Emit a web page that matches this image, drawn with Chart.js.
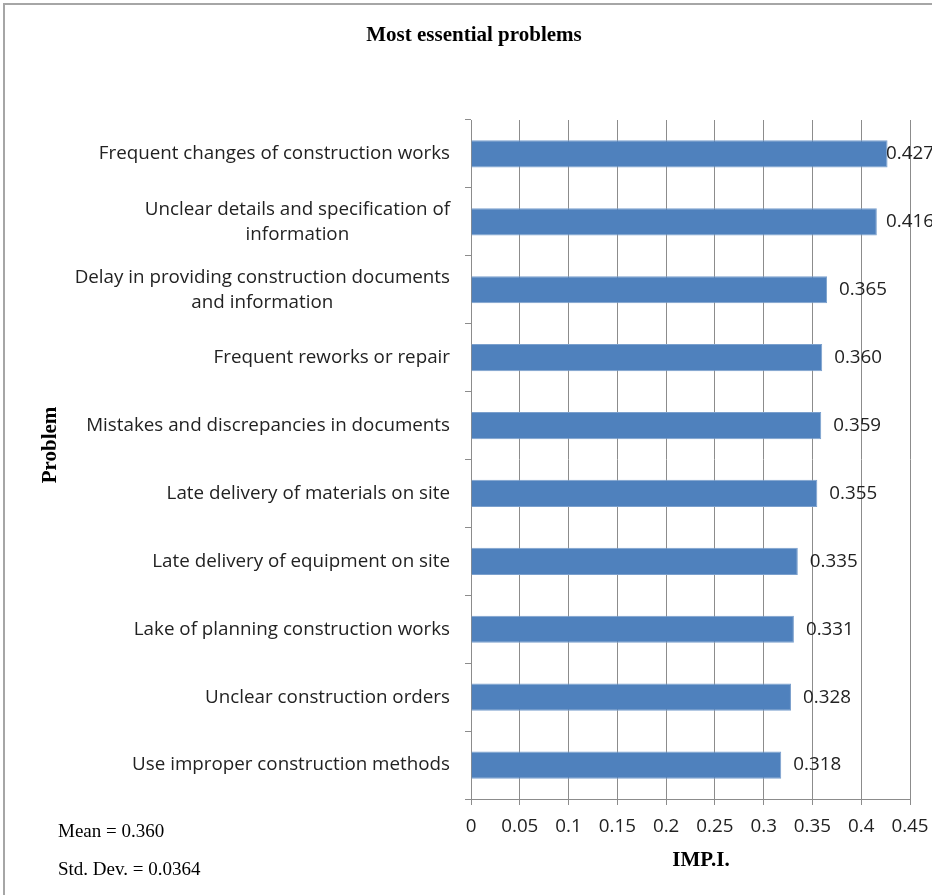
<!DOCTYPE html>
<html>
<head>
<meta charset="utf-8">
<script src="https://cdn.jsdelivr.net/npm/chart.js@4/dist/chart.umd.min.js"></script>
<style>
  html, body { margin: 0; padding: 0; background: #fff; }
  canvas { display: block; }
</style>
</head>
<body>
<canvas id="problemsChart" width="932" height="895"></canvas>
<script>
// categories (one array of lines per label), top to bottom
const problems = [
  ["Frequent changes of construction works"],
  ["Unclear details and specification of", "information"],
  ["Delay in providing construction documents", "and information"],
  ["Frequent reworks or repair"],
  ["Mistakes and discrepancies in documents"],
  ["Late delivery of materials on site"],
  ["Late delivery of equipment on site"],
  ["Lake of planning construction works"],
  ["Unclear construction orders"],
  ["Use improper construction methods"],
];
const impValues = [0.427, 0.416, 0.365, 0.360, 0.359, 0.355, 0.335, 0.331, 0.328, 0.318];
const statLines = ["Mean = 0.360", "Std. Dev. = 0.0364"];

const labelFont = "Open Sans";
const serifFont = "Liberation Serif";
const textColor = "#222";
Chart.defaults.font.family = labelFont;

const extras = {
  id: "extras",
  beforeDraw(chart) {
    const ctx = chart.ctx;
    ctx.save();
    ctx.strokeStyle = "#a6a6a6";
    ctx.lineWidth = 2;
    ctx.strokeRect(4, 4, chart.width + 20, chart.height + 20);
    ctx.restore();
  },
  afterDraw(chart) {
    const ctx = chart.ctx;
    const yScale = chart.scales.y;
    const area = chart.chartArea;
    ctx.save();
    ctx.fillStyle = textColor;
    ctx.textBaseline = "middle";

    // category labels, each block centred on its widest line, right edge near the axis
    ctx.font = "18.8px " + labelFont;
    ctx.textAlign = "center";
    problems.forEach((lines, i) => {
      const cy = yScale.getPixelForValue(i);
      const w = Math.max(...lines.map((l) => ctx.measureText(l).width));
      const cx = area.left - 21 - w / 2;
      lines.forEach((l, j) => ctx.fillText(l, cx, cy + (j - (lines.length - 1) / 2) * 25));
    });

    // value labels at the bar ends (kept from running too far right, like the original)
    ctx.textAlign = "left";
    chart.getDatasetMeta(0).data.forEach((bar, i) => {
      const x = Math.min(bar.x + 12, area.right - 24);
      ctx.fillText(impValues[i].toFixed(3), x, bar.y);
    });

    // axis titles
    ctx.fillStyle = "#000";
    ctx.font = "bold 21px " + serifFont;
    ctx.textAlign = "center";
    ctx.fillText("IMP.I.", 701, 861);
    ctx.save();
    ctx.translate(51, 445);
    ctx.rotate(-Math.PI / 2);
    ctx.fillText("Problem", 0, 0);
    ctx.restore();

    // stats
    ctx.font = "19px " + serifFont;
    ctx.textAlign = "left";
    ctx.fillText(statLines[0], 58, 832);
    ctx.fillText(statLines[1], 58, 870);
    ctx.restore();
  },
};

new Chart(document.getElementById("problemsChart"), {
  type: "bar",
  data: {
    labels: problems,
    datasets: [{
      data: impValues,
      backgroundColor: "#4F81BD",
      borderColor: "#7BA0CD",
      borderWidth: 1,
      barPercentage: 0.4,
      categoryPercentage: 1,
    }],
  },
  options: {
    indexAxis: "y",
    responsive: false,
    animation: false,
    layout: { padding: { left: 38, right: 22, top: 0, bottom: 0 } },
    plugins: {
      legend: { display: false },
      tooltip: { enabled: false },
      title: {
        display: true,
        text: "Most essential problems",
        color: "#000",
        font: { family: serifFont, size: 21, weight: "bold" },
        padding: { top: 23, bottom: 71.8 },
      },
    },
    scales: {
      x: {
        min: 0,
        max: 0.45,
        ticks: {
          stepSize: 0.05,
          color: textColor,
          font: { size: 18.8 },
          padding: 10,
          callback: (v) => String(+v.toFixed(2)),
        },
        grid: { color: "#8c8c8c", tickLength: 6 },
        border: { color: "#8c8c8c" },
        afterFit: (s) => {
          s.height = 96;
          s.paddingLeft = 0;
          s.paddingRight = 0;
        },
      },
      y: {
        ticks: { display: false },
        grid: { drawOnChartArea: false, tickLength: 6, color: "#8c8c8c" },
        border: { color: "#8c8c8c" },
        afterFit: (s) => { s.width = 433; },
      },
    },
  },
  plugins: [extras],
});
</script>
</body>
</html>
